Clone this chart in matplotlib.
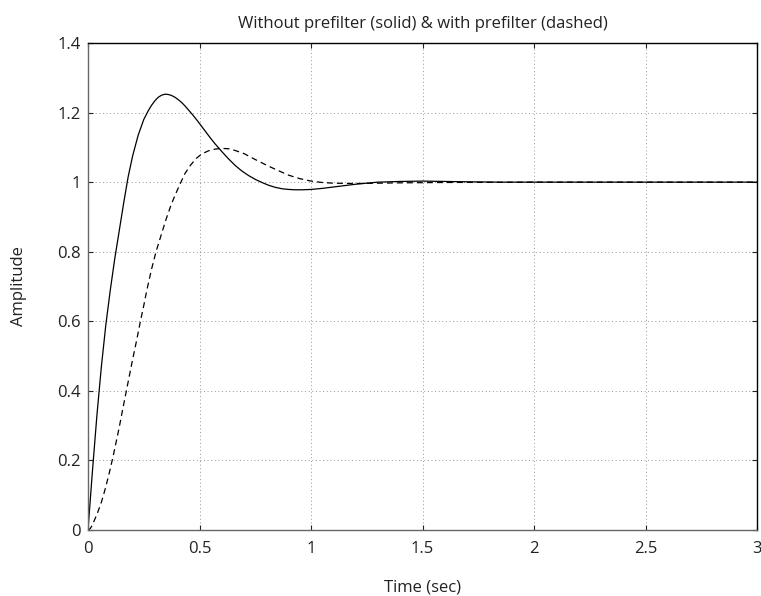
import matplotlib
matplotlib.use("Agg")
import matplotlib.pyplot as plt

# --- data ---
t_solid = [0, 0.020, 0.040, 0.060, 0.080, 0.100, 0.120, 0.140, 0.160, 0.180,
           0.200, 0.225, 0.250, 0.270, 0.285, 0.300, 0.315, 0.330, 0.346, 0.360,
           0.375, 0.390, 0.405, 0.420, 0.435, 0.450, 0.470, 0.490, 0.510, 0.530,
           0.550, 0.570, 0.600, 0.630, 0.660, 0.690, 0.720, 0.750, 0.780, 0.810,
           0.840, 0.870, 0.900, 0.930, 0.960, 1.000, 1.050, 1.100, 1.150, 1.200,
           1.250, 1.300, 1.400, 1.500, 1.600, 1.700, 1.850, 2.000, 2.500, 3.000]
y_solid = [0, 0.170, 0.330, 0.470, 0.590, 0.690, 0.780, 0.860, 0.940, 1.015,
           1.075, 1.135, 1.180, 1.205, 1.221, 1.234, 1.244, 1.250, 1.253, 1.252,
           1.249, 1.244, 1.237, 1.229, 1.219, 1.208, 1.193, 1.177, 1.160, 1.143,
           1.126, 1.110, 1.088, 1.067, 1.048, 1.032, 1.019, 1.008, 0.999, 0.991,
           0.985, 0.981, 0.979, 0.978, 0.978, 0.979, 0.982, 0.986, 0.990, 0.994,
           0.997, 1.000, 1.002, 1.003, 1.002, 1.001, 1.000, 1.000, 1.000, 1.000]

t_dash = [0, 0.010, 0.020, 0.030, 0.042, 0.060, 0.079, 0.095, 0.111, 0.125,
          0.140, 0.155, 0.172, 0.186, 0.200, 0.218, 0.235, 0.250, 0.264, 0.285,
          0.305, 0.330, 0.350, 0.370, 0.390, 0.413, 0.435, 0.460, 0.485, 0.510,
          0.540, 0.570, 0.600, 0.630, 0.660, 0.700, 0.750, 0.800, 0.850, 0.900,
          0.950, 1.000, 1.050, 1.100, 1.200, 1.300, 1.400, 1.600, 2.000, 3.000]
y_dash = [0, 0.004, 0.015, 0.030, 0.048, 0.080, 0.122, 0.163, 0.207, 0.249,
          0.295, 0.345, 0.400, 0.445, 0.490, 0.545, 0.600, 0.645, 0.690, 0.750,
          0.800, 0.852, 0.893, 0.930, 0.962, 0.995, 1.025, 1.049, 1.068, 1.081,
          1.090, 1.095, 1.097, 1.096, 1.091, 1.082, 1.065, 1.049, 1.034, 1.020,
          1.010, 1.003, 0.999, 0.997, 0.996, 0.997, 0.998, 0.999, 1.000, 1.000]

x_ticks = [0, 0.5, 1, 1.5, 2, 2.5, 3]
x_tick_labels = ["0", "0.5", "1", "1.5", "2", "2.5", "3"]
y_ticks = [0, 0.2, 0.4, 0.6, 0.8, 1.0, 1.2, 1.4]
y_tick_labels = ["0", "0.2", "0.4", "0.6", "0.8", "1", "1.2", "1.4"]

title = "Without prefilter (solid) & with prefilter (dashed)"
xlabel = "Time (sec)"
ylabel = "Amplitude"

plt.rcParams['font.family'] = ['Open Sans', 'DejaVu Sans']
plt.rcParams['lines.scale_dashes'] = False

FS = 12
TXT = '#222222'

fig = plt.figure(figsize=(7.61, 5.96), dpi=100)
ax = fig.add_axes([88 / 761, 66 / 596, (757 - 88) / 761, (530 - 43) / 596])

ax.plot(t_solid, y_solid, color='black', lw=0.9, solid_joinstyle='round')
ax.plot(t_dash, y_dash, color='black', lw=0.9, linestyle=(0, (4.3, 2.9)))

ax.set_xlim(0, 3)
ax.set_ylim(0, 1.4)
ax.set_xticks(x_ticks)
ax.set_xticklabels(x_tick_labels)
ax.set_yticks(y_ticks)
ax.set_yticklabels(y_tick_labels)

ax.grid(True, color='0.35', lw=0.5, linestyle=(0, (0.6, 2.0)))
ax.tick_params(direction='in', length=3.5, width=0.8, top=True, right=True,
               labelsize=FS, colors=TXT)
ax.tick_params(axis='x', pad=8)
ax.tick_params(axis='y', pad=5)

for side in ['left', 'bottom']:
    ax.spines[side].set_color('#666666')
    ax.spines[side].set_linewidth(1.0)
for side in ['top', 'right']:
    ax.spines[side].set_color('black')
    ax.spines[side].set_linewidth(1.0)

ax.set_title(title, fontsize=FS, color=TXT, pad=11)
ax.set_xlabel(xlabel, fontsize=FS, color=TXT, labelpad=16)
ax.set_ylabel(ylabel, fontsize=FS, color=TXT, labelpad=22)

fig.savefig("out.png", dpi=100)
